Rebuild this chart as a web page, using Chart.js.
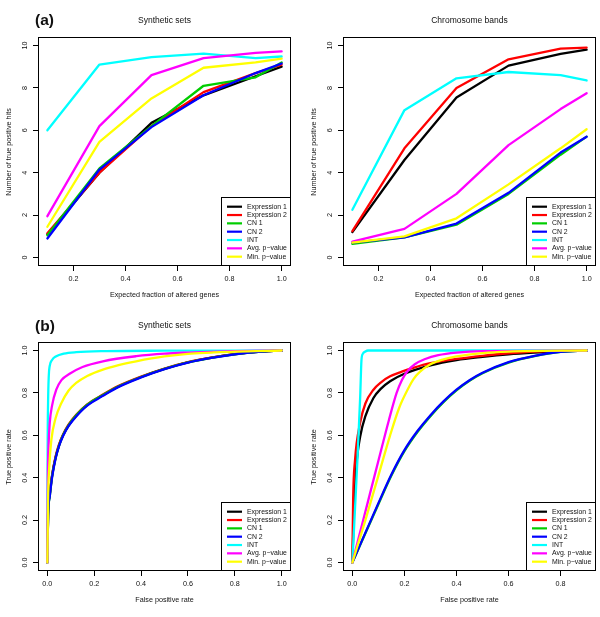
<!DOCTYPE html>
<html>
<head>
<meta charset="utf-8">
<script src="https://cdn.jsdelivr.net/npm/chart.js"></script>
<style>
  body { margin: 0; background: #fff; }
  #wrap { position: relative; width: 600px; height: 617px; font-family: "Liberation Sans", Arial, Helvetica, sans-serif; color: #111; }
  canvas { position: absolute; }
  .t { position: absolute; white-space: nowrap; line-height: 1; transform: translate(-50%, -50%); }
  .main { font-size: 8.5px; }
  .lab { font-size: 7.2px; }
  .ylab { transform: translate(-50%, -50%) rotate(-90deg); }
  .tag { position: absolute; font-size: 15.5px; font-weight: bold; line-height: 1; transform: translate(0, -50%); }
</style>
</head>
<body>
<div id="wrap">
  <canvas id="c1" width="300" height="305" style="left:0;top:0"></canvas>
  <canvas id="c2" width="300" height="305" style="left:300px;top:0"></canvas>
  <canvas id="c3" width="300" height="312" style="left:0;top:305px"></canvas>
  <canvas id="c4" width="300" height="312" style="left:300px;top:305px"></canvas>

  <div class="tag" style="left:35px;top:20px">(a)</div>
  <div class="tag" style="left:35px;top:326px">(b)</div>

  <div class="t main" style="left:164.5px;top:20px">Synthetic sets</div>
  <div class="t main" style="left:469.5px;top:20px">Chromosome bands</div>
  <div class="t main" style="left:164.5px;top:325px">Synthetic sets</div>
  <div class="t main" style="left:469.5px;top:325px">Chromosome bands</div>

  <div class="t lab" style="left:164.5px;top:295px">Expected fraction of altered genes</div>
  <div class="t lab" style="left:469.5px;top:295px">Expected fraction of altered genes</div>
  <div class="t lab" style="left:164.5px;top:600px">False positive rate</div>
  <div class="t lab" style="left:469.5px;top:600px">False positive rate</div>

  <div class="t lab ylab" style="left:8.5px;top:151.5px">Number of true positive hits</div>
  <div class="t lab ylab" style="left:313.5px;top:151.5px">Number of true positive hits</div>
  <div class="t lab ylab" style="left:8.5px;top:456.5px">True positive rate</div>
  <div class="t lab ylab" style="left:313.5px;top:456.5px">True positive rate</div>
</div>
<script>
// 1) 범례 / 색상
const methods = ['Expression 1', 'Expression 2', 'CN 1', 'CN 2', 'INT', 'Avg. p\u2212value', 'Min. p\u2212value'];
const colors  = ['#000000', '#FF0000', '#00CD00', '#0000FF', '#00FFFF', '#FF00FF', '#FFFF00'];

// 2) (a) 기대 비율 vs true positive hits
const fracX = [0.1, 0.3, 0.5, 0.7, 0.9, 1.0];
const fracTicks = [0.2, 0.4, 0.6, 0.8, 1.0];
const hitTicks = [0, 2, 4, 6, 8, 10];

const synExpr1 = [1.1, 4.0, 6.35, 7.65, 8.55, 9.0];
const synExpr2 = [1.15, 4.0, 6.2, 7.8, 8.7, 9.1];
const synCN1   = [1.05, 4.2, 6.2, 8.1, 8.5, 9.2];
const synCN2   = [0.9, 4.15, 6.15, 7.65, 8.7, 9.15];
const synINT   = [6.0, 9.1, 9.45, 9.62, 9.4, 9.48];
const synAvg   = [1.95, 6.2, 8.6, 9.4, 9.65, 9.72];
const synMin   = [1.45, 5.45, 7.5, 8.95, 9.2, 9.38];

const chrExpr1 = [1.2, 4.6, 7.55, 9.05, 9.6, 9.8];
const chrExpr2 = [1.25, 5.15, 8.0, 9.35, 9.85, 9.9];
const chrCN1   = [0.65, 0.95, 1.55, 3.0, 4.85, 5.7];
const chrCN2   = [0.7, 0.95, 1.6, 3.05, 4.95, 5.7];
const chrINT   = [2.25, 6.95, 8.45, 8.75, 8.6, 8.35];
const chrAvg   = [0.75, 1.35, 3.0, 5.3, 7.0, 7.75];
const chrMin   = [0.7, 1.0, 1.85, 3.45, 5.15, 6.05];

// 3) (b) ROC 곡선 [FPR, TPR]
const rateTicks = [0, 0.2, 0.4, 0.6, 0.8, 1.0];
const fprTicksChr = [0, 0.2, 0.4, 0.6, 0.8];

const synRocExpr1 = [[0,0],[0.003,0.23],[0.01,0.32],[0.02,0.41],[0.035,0.495],[0.05,0.553],[0.067,0.6],[0.09,0.645],[0.123,0.692],[0.17,0.742],[0.237,0.789],[0.3,0.828],[0.4,0.875],[0.5,0.913],[0.6,0.944],[0.7,0.966],[0.8,0.983],[0.9,0.994],[1,1]];
const synRocExpr2 = [[0,0],[0.003,0.23],[0.01,0.32],[0.02,0.41],[0.035,0.5],[0.05,0.558],[0.067,0.604],[0.09,0.65],[0.123,0.697],[0.17,0.746],[0.237,0.792],[0.3,0.831],[0.4,0.877],[0.5,0.915],[0.6,0.945],[0.7,0.966],[0.8,0.983],[0.9,0.995],[1,1]];
const synRocCN1   = [[0,0],[0.003,0.22],[0.01,0.31],[0.02,0.405],[0.035,0.493],[0.05,0.552],[0.067,0.601],[0.09,0.647],[0.123,0.694],[0.17,0.744],[0.237,0.79],[0.3,0.829],[0.4,0.875],[0.5,0.913],[0.6,0.944],[0.7,0.965],[0.8,0.982],[0.9,0.994],[1,1]];
const synRocCN2   = [[0,0],[0.003,0.22],[0.01,0.31],[0.02,0.4],[0.035,0.49],[0.05,0.55],[0.067,0.597],[0.09,0.643],[0.123,0.689],[0.17,0.74],[0.237,0.786],[0.3,0.826],[0.4,0.873],[0.5,0.912],[0.6,0.943],[0.7,0.965],[0.8,0.982],[0.9,0.994],[1,1]];
const synRocINT   = [[0,0],[0.001,0.5],[0.003,0.75],[0.006,0.88],[0.01,0.927],[0.02,0.955],[0.038,0.973],[0.07,0.985],[0.123,0.992],[0.25,0.997],[0.5,0.999],[1,1]];
const synRocAvg   = [[0,0],[0.002,0.4],[0.005,0.55],[0.01,0.657],[0.02,0.74],[0.038,0.815],[0.06,0.86],[0.095,0.89],[0.15,0.922],[0.237,0.949],[0.379,0.973],[0.5,0.985],[0.6,0.99],[0.8,0.997],[1,1]];
const synRocMin   = [[0,0],[0.003,0.3],[0.008,0.45],[0.017,0.578],[0.035,0.68],[0.06,0.752],[0.09,0.81],[0.123,0.847],[0.17,0.88],[0.237,0.91],[0.3,0.93],[0.379,0.949],[0.5,0.972],[0.6,0.984],[0.7,0.99],[0.8,0.995],[1,1]];

const chrRocExpr1 = [[0,0],[0.005,0.2],[0.015,0.45],[0.03,0.594],[0.05,0.69],[0.081,0.776],[0.11,0.82],[0.145,0.855],[0.2,0.89],[0.3,0.93],[0.4,0.955],[0.5,0.97],[0.6,0.982],[0.7,0.99],[0.8,0.996],[0.9,1]];
const chrRocExpr2 = [[0,0],[0.003,0.3],[0.01,0.48],[0.03,0.66],[0.05,0.75],[0.081,0.815],[0.11,0.85],[0.145,0.878],[0.19,0.9],[0.234,0.918],[0.3,0.94],[0.4,0.96],[0.5,0.975],[0.6,0.987],[0.7,0.995],[0.9,1]];
const chrRocCN1   = [[0,0],[0.1,0.275],[0.15,0.41],[0.2,0.525],[0.25,0.615],[0.3,0.69],[0.35,0.756],[0.4,0.812],[0.45,0.857],[0.5,0.893],[0.6,0.943],[0.7,0.973],[0.8,0.993],[0.9,1]];
const chrRocCN2   = [[0,0],[0.1,0.28],[0.15,0.415],[0.2,0.53],[0.25,0.62],[0.3,0.695],[0.35,0.76],[0.4,0.815],[0.45,0.86],[0.5,0.895],[0.6,0.945],[0.7,0.975],[0.8,0.994],[0.9,1]];
const chrRocINT   = [[0,0],[0.01,0.25],[0.02,0.5],[0.03,0.78],[0.035,0.955],[0.04,0.984],[0.05,0.995],[0.06,1],[0.9,1]];
const chrRocAvg   = [[0,0],[0.05,0.24],[0.1,0.48],[0.14,0.67],[0.17,0.8],[0.19,0.86],[0.21,0.9],[0.24,0.935],[0.28,0.96],[0.33,0.978],[0.4,0.99],[0.5,0.997],[0.9,1]];
const chrRocMin   = [[0,0],[0.05,0.2],[0.1,0.41],[0.145,0.6],[0.18,0.73],[0.21,0.81],[0.235,0.865],[0.26,0.9],[0.3,0.935],[0.35,0.958],[0.4,0.972],[0.5,0.988],[0.6,0.995],[0.9,1]];

const FONT = '"Liberation Sans", Arial, Helvetica, sans-serif';

// 4) R 스타일 박스, 회전된 y 눈금, 범례
const rFrame = {
  id: 'rFrame',
  afterDraw(chart, args, o) {
    const { ctx, chartArea: a } = chart;
    const y = chart.scales.y;
    ctx.save();
    ctx.strokeStyle = '#000';
    ctx.lineWidth = 1;
    ctx.strokeRect(a.left + 0.5, a.top + 0.5, a.right - a.left - 1, a.bottom - a.top - 1);

    ctx.fillStyle = '#111';
    ctx.font = '7.2px ' + FONT;
    ctx.textAlign = 'center';
    ctx.textBaseline = 'middle';
    y.ticks.forEach(t => {
      ctx.save();
      ctx.translate(a.left - 12.5, y.getPixelForValue(t.value));
      ctx.rotate(-Math.PI / 2);
      ctx.fillText(t.value.toFixed(o.yDec), 0, 0);
      ctx.restore();
    });

    // legend box in lower-right corner
    const w = 70, h = 69;
    const bx = a.right - w, by = a.bottom - h;
    ctx.fillStyle = '#fff';
    ctx.fillRect(bx, by, w, h);
    ctx.strokeRect(bx + 0.5, by + 0.5, w - 1, h - 1);
    ctx.textAlign = 'left';
    ctx.font = '6.9px ' + FONT;
    chart.data.datasets.forEach((ds, i) => {
      const cy = by + 9.7 + i * 8.33;
      ctx.strokeStyle = ds.borderColor;
      ctx.lineWidth = 2.2;
      ctx.beginPath();
      ctx.moveTo(bx + 6, cy);
      ctx.lineTo(bx + 21, cy);
      ctx.stroke();
      ctx.fillStyle = '#111';
      ctx.fillText(ds.label, bx + 26, cy);
    });
    ctx.restore();
  }
};

function toPoints(vals) {
  return fracX.map((x, k) => ({ x: x, y: vals[k] }));
}
function rocPoints(pairs) {
  return pairs.map(p => ({ x: p[0], y: p[1] }));
}

function panel(id, series, smooth, xr, xTicks, yr, yTicks, yDec, leftW, rightPad, axisH) {
  const axisBase = {
    type: 'linear',
    grid: { display: true, drawOnChartArea: false, drawTicks: true, tickLength: 5, color: '#000', lineWidth: 1 },
    border: { display: false }
  };
  return new Chart(document.getElementById(id), {
    type: 'line',
    data: {
      datasets: series.map((pts, i) => ({
        label: methods[i],
        data: pts,
        borderColor: colors[i],
        borderWidth: 2.3,
        pointRadius: 0,
        fill: false,
        tension: 0,
        cubicInterpolationMode: smooth ? 'monotone' : 'default',
        borderCapStyle: 'round',
        borderJoinStyle: 'round',
        order: series.length - 1 - i
      }))
    },
    options: {
      responsive: false,
      animation: false,
      events: [],
      layout: { padding: { left: 0, right: rightPad, top: 37, bottom: 0 } },
      plugins: { legend: { display: false }, tooltip: { enabled: false }, rFrame: { yDec: yDec } },
      scales: {
        x: Object.assign({}, axisBase, {
          min: xr[0], max: xr[1],
          afterBuildTicks: s => { s.ticks = xTicks.map(v => ({ value: v })); },
          afterFit: s => { s.height = axisH; },
          ticks: { font: { family: FONT, size: 7.2 }, color: '#111', padding: 4, maxRotation: 0, autoSkip: false,
                   callback: v => v.toFixed(1) }
        }),
        y: Object.assign({}, axisBase, {
          min: yr[0], max: yr[1],
          afterBuildTicks: s => { s.ticks = yTicks.map(v => ({ value: v })); },
          afterFit: s => { s.width = leftW; },
          ticks: { display: false }
        })
      }
    },
    plugins: [rFrame]
  });
}

panel('c1', [synExpr1, synExpr2, synCN1, synCN2, synINT, synAvg, synMin].map(toPoints), false,
      [0.064, 1.036], fracTicks, [-0.4, 10.4], hitTicks, 0, 38, 9, 39);
panel('c2', [chrExpr1, chrExpr2, chrCN1, chrCN2, chrINT, chrAvg, chrMin].map(toPoints), false,
      [0.064, 1.036], fracTicks, [-0.4, 10.4], hitTicks, 0, 43, 4, 39);
panel('c3', [synRocExpr1, synRocExpr2, synRocCN1, synRocCN2, synRocINT, synRocAvg, synRocMin].map(rocPoints), true,
      [-0.04, 1.04], rateTicks, [-0.04, 1.04], rateTicks, 1, 38, 9, 46);
panel('c4', [chrRocExpr1, chrRocExpr2, chrRocCN1, chrRocCN2, chrRocINT, chrRocAvg, chrRocMin].map(rocPoints), true,
      [-0.036, 0.936], fprTicksChr, [-0.04, 1.04], rateTicks, 1, 43, 4, 46);
</script>
</body>
</html>
